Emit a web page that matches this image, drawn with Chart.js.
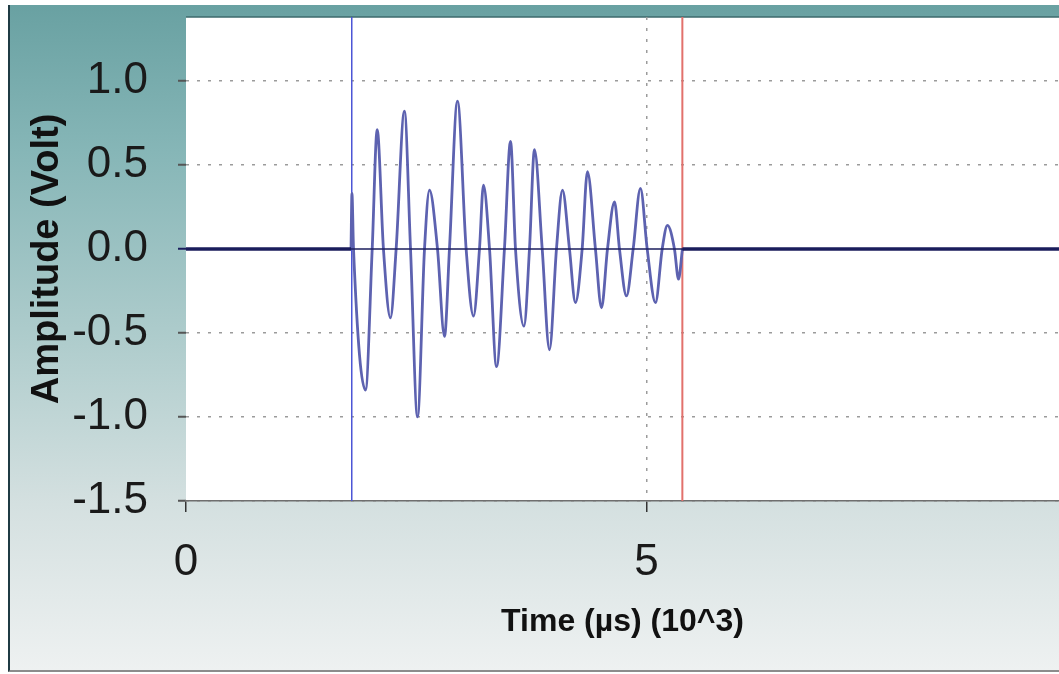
<!DOCTYPE html>
<html>
<head>
<meta charset="utf-8">
<script src="https://cdn.jsdelivr.net/npm/chart.js@4.4.1/dist/chart.umd.min.js"></script>
<style>
  body { margin: 0; background: #fff; overflow: hidden; }
  #frame {
    position: absolute; left: 8px; top: 5px; width: 1051px; height: 665px;
    border-left: 2px solid #1f3b44; border-bottom: 2px solid #8c8c8c;
    background: linear-gradient(to bottom, #69a1a2 0%, #86b6b7 22%, #aecccc 50%, #d4e0e0 75%, #eef1f1 100%);
  }
  #chart { position: absolute; left: 0; top: 0; }
</style>
</head>
<body>
<div id="frame"></div>
<canvas id="chart" width="1059" height="674"></canvas>
<script>
// time in 10^3 us, amplitude in volt (extrema and zero crossings)
const timeVals = [
  1.792, 1.802, 1.819, 1.949, 2.022, 2.076, 2.144, 2.220, 2.282, 2.372,
  2.438, 2.514, 2.590, 2.644, 2.731, 2.807, 2.861, 2.948, 3.042, 3.122,
  3.187, 3.230, 3.296, 3.372, 3.458, 3.524, 3.578, 3.670, 3.730, 3.784,
  3.868, 3.947, 4.023, 4.088, 4.164, 4.229, 4.302, 4.359, 4.446, 4.512,
  4.577, 4.653, 4.707, 4.783, 4.856, 4.935, 5.008, 5.098, 5.171, 5.228,
  5.304, 5.348, 5.391
];
const ampVals = [
  0, 0.33, 0, -0.84, 0, 0.71, 0, -0.41, 0, 0.82,
  0, -1.0, 0, 0.35, 0, -0.52, 0, 0.88, 0, -0.40,
  0, 0.38, 0, -0.70, 0, 0.64, 0, -0.46, 0, 0.59,
  0, -0.60, 0, 0.35, 0, -0.32, 0, 0.46, 0, -0.35,
  0, 0.28, 0, -0.28, 0, 0.36, 0, -0.32, 0, 0.14,
  0, -0.18, 0
];
const startMarker = 1.8;
const endMarker = 5.39;
const xRange = [0, 9.48];
const yRange = [-1.5, 1.38];
const xTicks = [0, 5];
const yTicks = [-1.5, -1.0, -0.5, 0.0, 0.5, 1.0];

const tickFont = "'Liberation Sans', Arial, sans-serif";

const wave = timeVals.map((t, i) => ({ x: t, y: ampVals[i] }));
const baseline = [
  { x: xRange[0], y: 0 }, { x: timeVals[0], y: 0 },
  { x: 3, y: null },
  { x: timeVals[timeVals.length - 1], y: 0 }, { x: xRange[1], y: 0 }
];
const zeroLine = [{ x: xRange[0], y: 0 }, { x: xRange[1], y: 0 }];

const plotBg = {
  id: "plotBg",
  beforeDraw(chart) {
    const { ctx, chartArea: a } = chart;
    ctx.save();
    ctx.fillStyle = "#ffffff";
    ctx.fillRect(a.left, a.top, a.right - a.left, a.bottom - a.top);
    ctx.strokeStyle = "#3d6a6c";
    ctx.lineWidth = 1.5;
    ctx.beginPath();
    ctx.moveTo(a.left, a.top);
    ctx.lineTo(a.right, a.top);
    ctx.stroke();
    ctx.restore();
  },
};

new Chart(document.getElementById("chart"), {
  type: "line",
  data: {
    datasets: [
      {
        label: "zero",
        data: zeroLine,
        borderColor: "#1b1e5c",
        borderWidth: 1.5,
        pointRadius: 0,
        order: 0,
      },
      {
        label: "baseline",
        data: baseline,
        borderColor: "#1b1e5c",
        borderWidth: 3.5,
        pointRadius: 0,
        spanGaps: false,
        order: 1,
      },
      {
        label: "start",
        data: [{ x: startMarker, y: yRange[0] }, { x: startMarker, y: yRange[1] }],
        borderColor: "#4b55d6",
        borderWidth: 1.5,
        pointRadius: 0,
        order: 3,
      },
      {
        label: "end",
        data: [{ x: endMarker, y: yRange[0] }, { x: endMarker, y: yRange[1] }],
        borderColor: "#e2716c",
        borderWidth: 2,
        pointRadius: 0,
        order: 3,
      },
      {
        label: "signal",
        data: wave,
        borderColor: "#5d62b0",
        borderWidth: 2.8,
        pointRadius: 0,
        cubicInterpolationMode: "monotone",
        order: 2,
      },
    ],
  },
  options: {
    responsive: false,
    animation: false,
    events: [],
    layout: { padding: { left: 25, top: 17, right: 0, bottom: 33 } },
    plugins: { legend: { display: false }, tooltip: { enabled: false } },
    scales: {
      x: {
        type: "linear",
        min: xRange[0],
        max: xRange[1],
        afterBuildTicks: (s) => { s.ticks = xTicks.map((v) => ({ value: v })); },
        afterFit: (s) => {
          s.height = 674 - 33 - 501;
          s.paddingLeft = 0;
          s.paddingRight = 0;
        },
        ticks: {
          color: "#1a1a1a",
          font: { family: tickFont, size: 44 },
          padding: 24,
          maxRotation: 0,
        },
        grid: {
          color: (c) => (c.tick && c.tick.value === 0 ? "rgba(0,0,0,0)" : "#9b9b9b"),
          lineWidth: 1.5,
          tickColor: "#333",
          tickLength: 11,
          tickWidth: 1.5,
        },
        border: { display: true, color: "#6f6f6f", width: 1.5, dash: [3, 8] },
        title: {
          display: true,
          text: "Time (µs) (10^3)",
          color: "#111",
          font: { family: tickFont, size: 32, weight: "bold" },
          padding: 0,
        },
      },
      y: {
        min: yRange[0],
        max: yRange[1],
        afterBuildTicks: (s) => { s.ticks = yTicks.map((v) => ({ value: v })); },
        afterFit: (s) => {
          s.width = 186 - 25;
          s.paddingTop = 0;
          s.paddingBottom = 0;
        },
        ticks: {
          color: "#1a1a1a",
          font: { family: tickFont, size: 44 },
          padding: 30,
          callback: (v) => v.toFixed(1),
        },
        grid: {
          color: (c) => (c.tick && c.tick.value === 0 ? "rgba(0,0,0,0)" : "#9b9b9b"),
          lineWidth: 1.5,
          tickColor: (c) => (c.tick && c.tick.value === 0 ? "#1b1e5c" : "#555"),
          tickLength: 8,
          tickWidth: 2,
        },
        border: { display: false, dash: [3, 8] },
        title: {
          display: true,
          text: "Amplitude (Volt)",
          color: "#111",
          font: { family: tickFont, size: 38, weight: "bold" },
          padding: 0,
        },
      },
    },
  },
  plugins: [plotBg],
});
</script>
</body>
</html>
